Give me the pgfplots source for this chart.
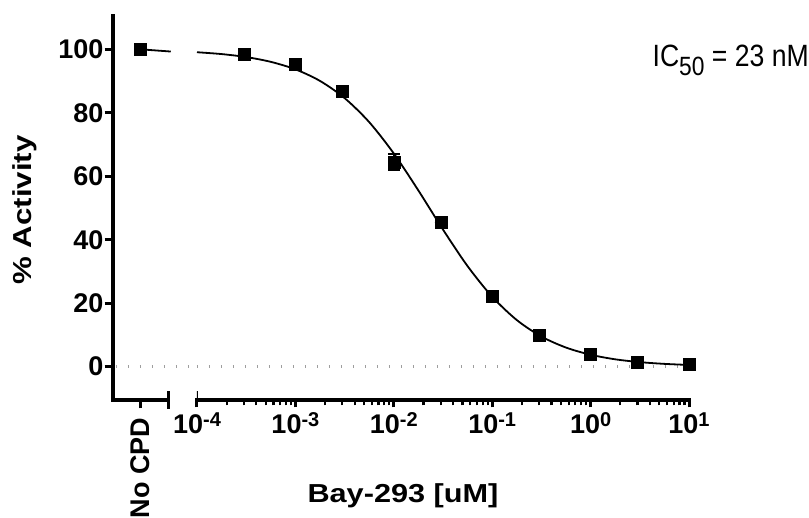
\documentclass[border=0pt]{standalone}
\usepackage{fontspec}
\setmainfont{Liberation Sans}
\usepackage{pgfplots}
\pgfplotsset{compat=1.18}

\definecolor{zeroline}{gray}{0.62}
\newcommand{\tickfont}{\fontsize{27}{32}\selectfont\bfseries}
\newcommand{\sx}[1]{10\raisebox{7pt}{\fontsize{20}{24}\selectfont #1}}

% fitted curve (top 100, bottom 0, IC50 0.023 uM, slope 0.86)
\pgfplotstableread{
conc      act
1e-4      99.08
1.778e-4  98.50
3.162e-4  97.56
5.623e-4  96.05
1e-3      93.69
1.778e-3  90.04
3.162e-3  84.63
5.623e-3  77.06
1e-2      67.18
1.778e-2  55.52
3.162e-2  43.20
5.623e-2  31.67
0.1       22.04
0.1778    14.69
0.3162     9.50
0.5623     6.02
1          3.76
1.778      2.32
3.162      1.43
5.623      0.88
10         0.54
}\fitcurve

\pgfplotstableread{
conc   act    err
3e-4   98.5   0
1e-3   95.4   0
3e-3   86.8   0
1e-2   64.5   2.5
3e-2   45.5   0
0.1    22.3   0
0.3    10.0   0
1       3.9   0
3       1.4   0
10      0.7   0
}\measured

\pgfplotsset{
  prism/.style={
    scale only axis, height=384pt,
    ymin=-10.5, ymax=110.5,
    axis line style={line width=4.5pt, line cap=rect},
    tick align=outside,
    major tick style={line width=3pt, black},
    minor tick style={line width=2.2pt, black},
    tick label style={font=\tickfont},
  },
}

\begin{document}
\begin{tikzpicture}[x=1pt, y=1pt]
\path[use as bounding box] (0,0) rectangle (809,518);

% left segment: no compound
\begin{axis}[prism,
    at={(113pt,118pt)}, anchor=south west, width=55pt,
    xmin=0, xmax=1, clip=false,
    axis x line*=bottom, axis y line*=left,
    xtick={0.5}, xticklabels={No CPD},
    xticklabel style={rotate=90, anchor=east, inner sep=9pt},
    major tick length=8.5pt,
    ytick={0,20,40,60,80,100},
    yticklabels={0,20,40,60,80,100},
    yticklabel style={inner sep=1pt},
]
\addplot[zeroline, line width=3.5pt, dash pattern=on 1pt off 11pt] coordinates {(0.05,0) (1.55,0)};
\addplot[black, line width=1.8pt] coordinates {(0.5,100) (1.05,99.3)};
\addplot[only marks, mark=square*, mark size=6pt, black] coordinates {(0.5,100)};
\draw[line width=3pt] ([yshift=-9pt]rel axis cs:1,0) -- ([yshift=9pt]rel axis cs:1,0);
\end{axis}

% right segment: log concentration
\begin{axis}[prism,
    at={(197pt,118pt)}, anchor=south west, width=492pt,
    xmode=log, xmin=1e-4, xmax=10,
    axis x line*=bottom, axis y line=none,
    xtick={1e-4,1e-3,1e-2,1e-1,1,10},
    xticklabels={\sx{-4},\sx{-3},\sx{-2},\sx{-1},\sx{0},\sx{1}},
    xticklabel style={inner sep=5pt},
    major tick length=7.5pt, minor tick length=5.5pt,
]
\addplot[zeroline, line width=3.5pt, dash pattern=on 1pt off 11pt] coordinates {(1e-4,0) (10,0)};
\addplot[black, line width=1.8pt, smooth] table[x=conc, y=act] {\fitcurve};
\addplot[black, only marks, mark=square*, mark size=6pt,
    error bars/.cd, y dir=both, y explicit,
    error bar style={line width=1.5pt},
    error mark options={rotate=90, mark size=6pt, line width=1.5pt},
] table[x=conc, y=act, y error=err] {\measured};
\draw[line width=3pt] ([yshift=-9pt]rel axis cs:0,0) -- ([yshift=9pt]rel axis cs:0,0);
\end{axis}

\node[rotate=90, xscale=1.2, font=\fontsize{26}{30}\selectfont\bfseries] at (25,308) {\% Activity};
\node[anchor=base, xscale=1.18, font=\fontsize{26}{30}\selectfont\bfseries] at (403,15) {Bay-293 [uM]};
\node[anchor=base east, inner sep=0pt, xscale=0.95, yscale=1.1, font=\fontsize{28}{33}\selectfont] at (809,451)
    {IC\raisebox{-8pt}{\fontsize{24}{28}\selectfont 50} = 23 nM};
\end{tikzpicture}
\end{document}
